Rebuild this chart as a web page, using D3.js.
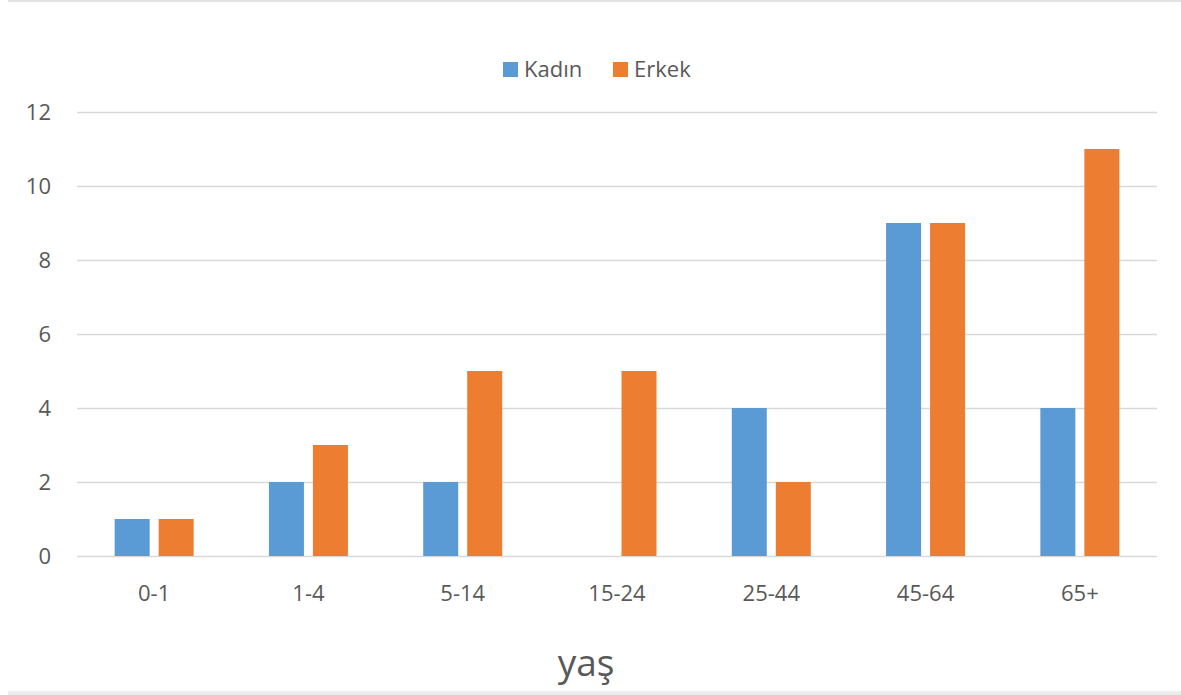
<!DOCTYPE html>
<html><head><meta charset="utf-8">
<script src="https://cdn.jsdelivr.net/npm/d3@7"></script>
<style>
html,body{margin:0;padding:0;background:#fff;}
svg{display:block;font-family:"Open Sans","Liberation Sans",sans-serif;}
</style></head>
<body><svg id="c" width="1181" height="695"></svg>
<script>
const categories = ["0-1","1-4","5-14","15-24","25-44","45-64","65+"];
const kadin = [1,2,2,0,4,9,4];
const erkek = [1,3,5,5,2,9,11];
const seriesNames = ["Kadın","Erkek"];
const yTicks = [0,2,4,6,8,10,12];
const colors = ["#5B9BD5","#ED7D31"];

const svg = d3.select("#c");
// frame lines
svg.append("rect").attr("x",8).attr("y",0).attr("width",1173).attr("height",2).attr("fill","#e3e3e3");
svg.append("rect").attr("x",8).attr("y",691).attr("width",1173).attr("height",4).attr("fill","#ececec");

const m = {l:77, r:1157, t:112, b:556};
const x = d3.scaleBand().domain(categories).range([m.l,m.r]);
const y = d3.scaleLinear().domain([0,12]).range([m.b,m.t]);
const barW = 35, gap = 9;
const xs = d3.scaleOrdinal().domain(seriesNames).range([-(barW+gap/2), gap/2]);

// gridlines
const grid = svg.append("g").attr("transform",`translate(${m.l},0)`)
  .call(d3.axisLeft(y).tickValues(yTicks).tickSize(-(m.r-m.l)).tickFormat(""));
grid.select(".domain").remove();
grid.selectAll("line").attr("stroke","#d9d9d9").attr("stroke-width",1.5);

// y labels
const ya = svg.append("g").attr("transform",`translate(51,0)`)
  .call(d3.axisLeft(y).tickValues(yTicks).tickSize(0).tickPadding(0));
ya.select(".domain").remove();
ya.selectAll("text").attr("fill","#595959").style("font-size","22px").style("font-family","'Open Sans',sans-serif");

// bars
const data = [kadin, erkek];
data.forEach((vals,si)=>{
  svg.append("g").selectAll("rect").data(vals).join("rect")
    .attr("x",(d,i)=>x(categories[i])+x.bandwidth()/2+xs(seriesNames[si]))
    .attr("y",d=>y(d))
    .attr("width",barW)
    .attr("height",d=>y(0)-y(d))
    .attr("fill",colors[si]);
});

// x labels
const xa = svg.append("g").attr("transform",`translate(0,${m.b})`)
  .call(d3.axisBottom(x).tickSize(0).tickPadding(29));
xa.select(".domain").remove();
xa.selectAll("text").attr("fill","#595959").style("font-size","22px").style("font-family","'Open Sans',sans-serif");

// axis title
svg.append("text").attr("x",586).attr("y",676).attr("text-anchor","middle")
  .attr("fill","#595959").style("font-size","37px").text("yaş");

// legend
const legX = [503, 613];
seriesNames.forEach((n,i)=>{
  svg.append("rect").attr("x",legX[i]).attr("y",62).attr("width",15).attr("height",15).attr("fill",colors[i]);
  svg.append("text").attr("x",legX[i]+21).attr("y",77).attr("fill","#595959").style("font-size","22px").text(n);
});
</script></body></html>
